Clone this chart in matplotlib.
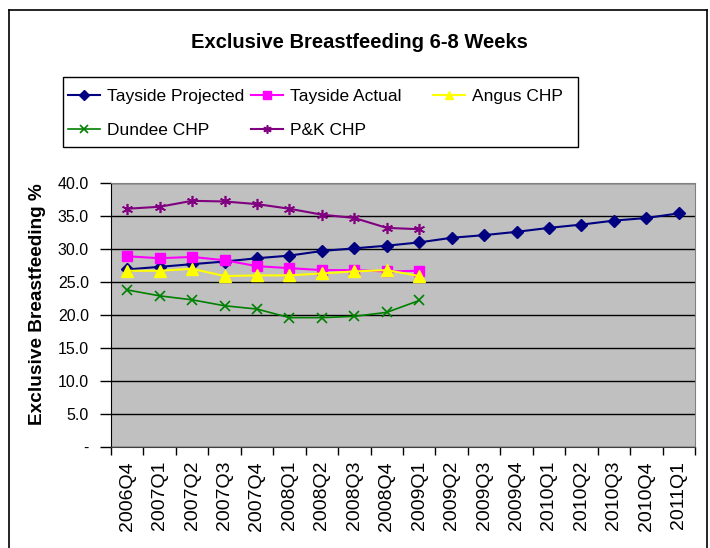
import matplotlib.pyplot as plt
from matplotlib.lines import Line2D
from matplotlib.patches import Rectangle
from matplotlib.ticker import FixedLocator, FuncFormatter
import numpy as np

plt.rcParams['font.family'] = ['Liberation Sans', 'DejaVu Sans']

quarters = ['2006Q4', '2007Q1', '2007Q2', '2007Q3', '2007Q4', '2008Q1',
            '2008Q2', '2008Q3', '2008Q4', '2009Q1', '2009Q2', '2009Q3',
            '2009Q4', '2010Q1', '2010Q2', '2010Q3', '2010Q4', '2011Q1']

# values (%)
tayside_projected = [26.9, 27.3, 27.7, 28.1, 28.6, 29.0, 29.7, 30.1, 30.5, 31.0,
                     31.7, 32.1, 32.6, 33.2, 33.7, 34.3, 34.7, 35.4]
tayside_actual = [28.9, 28.6, 28.8, 28.3, 27.4, 27.1, 26.8, 26.8, 26.6, 26.7]
angus_chp = [26.7, 26.7, 27.0, 25.9, 26.0, 26.0, 26.3, 26.6, 26.8, 25.9]
dundee_chp = [23.8, 22.9, 22.3, 21.4, 20.9, 19.6, 19.6, 19.8, 20.4, 22.2]
pk_chp = [36.1, 36.4, 37.3, 37.2, 36.8, 36.1, 35.2, 34.7, 33.2, 33.0]

fig = plt.figure(figsize=(7.1, 5.48), dpi=100)
ax = fig.add_axes([111/710, 101/548, 584/710, 264/548])
ax.set_facecolor('#C0C0C0')

x_all = np.arange(len(quarters))
x_act = np.arange(len(tayside_actual))

h_tp, = ax.plot(x_all, tayside_projected, color='#000080', lw=1.5,
                marker='D', ms=6.5, label='Tayside Projected')
h_ta, = ax.plot(x_act, tayside_actual, color='#FF00FF', lw=1.5,
                marker='s', ms=7, label='Tayside Actual')
h_an, = ax.plot(x_act, angus_chp, color='#FFFF00', lw=1.5,
                marker='^', ms=8, label='Angus CHP')
h_du, = ax.plot(x_act, dundee_chp, color='#008000', lw=1.2,
                marker='x', ms=7, mew=1.2, label='Dundee CHP')
h_pk, = ax.plot(x_act, pk_chp, color='#800080', lw=1.5,
                marker=(6, 2, 0), ms=8, mew=1.2, label='P&K CHP')

ax.set_xlim(-0.5, len(quarters) - 0.5)
ax.set_ylim(0, 40)
ax.set_yticks(np.arange(0, 41, 5))
ax.yaxis.set_major_formatter(FuncFormatter(lambda v, p: '-' if v == 0 else f'{v:.1f}'))
ax.grid(axis='y', color='black', lw=1)
ax.set_axisbelow(True)

ax.set_xticks(x_all)
ax.set_xticklabels(quarters, rotation=90, fontsize=14)
ax.xaxis.set_minor_locator(FixedLocator(np.arange(-0.5, len(quarters), 1)))
ax.tick_params(axis='x', which='major', length=0, pad=10)
ax.tick_params(axis='x', which='minor', length=6, width=1, color='black')
ax.tick_params(axis='y', length=8, width=1, pad=8, labelsize=11.5)

for s in ['top', 'right']:
    ax.spines[s].set_color('#808080')
ax.spines['left'].set_color('black')
ax.spines['bottom'].set_color('#404040')

fig.text(359/710, 1 - 43/548, 'Exclusive Breastfeeding 6-8 Weeks',
         ha='center', va='center', fontsize=14.5, fontweight='bold')
fig.text(38/710, 1 - 304/548, 'Exclusive Breastfeeding %', rotation=90,
         ha='center', va='center', fontsize=13.7, fontweight='bold')

# legend box with three columns, like the original
fig.add_artist(Rectangle((63/710, 1 - 147/548), 515/710, 70/548,
                         transform=fig.transFigure, fill=False,
                         edgecolor='black', lw=1))
columns = [([h_tp, h_du], 68), ([h_ta, h_pk], 251), ([h_an], 433)]
for handles, xpos in columns:
    fig.legend(handles=handles, loc='upper left',
               bbox_to_anchor=(xpos/710, 1 - 89/548), frameon=False,
               borderpad=0, borderaxespad=0, fontsize=12.5, numpoints=1,
               handlelength=1.85, handletextpad=0.4, labelspacing=1.1,
               markerscale=0.75)

# outer chart border
kw = dict(transform=fig.transFigure, color='black', lw=1.2)
fig.add_artist(Line2D([9/710, 9/710], [0, 1 - 10/548], **kw))
fig.add_artist(Line2D([9/710, 707/710], [1 - 10/548, 1 - 10/548], **kw))
fig.add_artist(Line2D([707/710, 707/710], [0, 1 - 10/548], **kw))

fig.savefig('out.png', dpi=100)
